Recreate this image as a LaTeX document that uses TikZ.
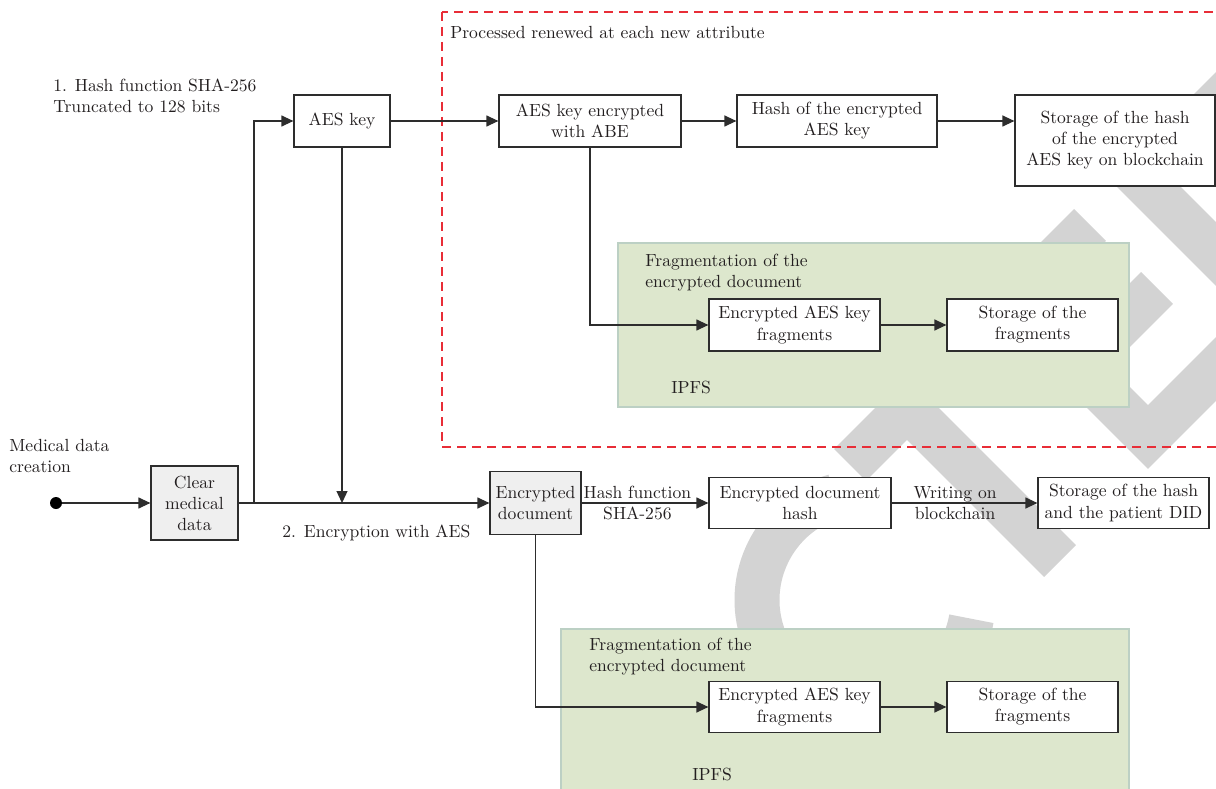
\documentclass[tikz,border=0pt]{standalone}
\usepackage{xcolor}
\usepackage{tikz}
\usetikzlibrary {arrows.meta,positioning}

\definecolor{boxline}{RGB}{45,45,45}
\definecolor{inkgrey}{RGB}{35,31,32}
\definecolor{datagrey}{RGB}{239,239,239}
\definecolor{ipfsgreen}{RGB}{221,231,205}
\definecolor{ipfsedge}{RGB}{188,208,196}
\definecolor{dashred}{RGB}{232,45,55}
\definecolor{wmgrey}{RGB}{211,211,211}

\begin{document}
\begin{tikzpicture}[x=0.2mm, y=-0.2mm, on grid,
   block/.style={draw=boxline, fill=white, line width=0.7pt, align=center, inner sep=1pt, text=inkgrey},
   greyblock/.style={block, fill=datagrey},
   dot/.style={circle, fill=black, minimum size=2.4mm, inner sep=0pt},
   lbl/.style={align=left, inner sep=0pt, anchor=west, text=inkgrey},
   edgelbl/.style={align=center, inner sep=0pt, text=inkgrey},
   ipfsbox/.style={fill=ipfsgreen, draw=ipfsedge, line width=0.6pt},
   renewbox/.style={draw=dashred, line width=0.7pt, dash pattern=on 1.8mm off 1.2mm},
   wmband/.style={draw=wmgrey, line width=9mm},
   elbow/.style={to path={|- (\tikztotarget) \tikztonodes}}]

   \clip (0,0) rectangle (1216,788);

   % grey watermark behind the diagram
   \draw[wmband] (865,600) ++(-106:108) arc[start angle=-106, end angle=-350, radius=108];
   \draw[wmband] (850,465) -- (1090,225);
   \draw[wmband] (907,408) -- (1060,561);
   \draw[wmband] (1157,288) -- (1078,367) -- (1148,437) -- (1260,325);
   \draw[wmband] (1260,60) -- (1141,179) -- (1260,298);

   % regions
   \draw[renewbox] (442,12) rectangle (1240,447);
   \draw[ipfsbox] (618,243) rectangle (1129,407);
   \draw[ipfsbox] (561,629) rectangle (1129,800);

   % Define the blocks
   \node[dot] (start) at (56,503) {};
   \node[greyblock, minimum width=17.4mm, minimum height=14.8mm] (clear) at (194.5,503) {Clear\\medical\\data};
   \coordinate (split) at (254,503);
   \node[block, minimum width=19.2mm, minimum height=10.4mm] (aeskey) at (342,121) {AES key};
   \node[block, minimum width=36.4mm, minimum height=10.4mm] (abe) at (590,121) {AES key encrypted\\with ABE};
   \node[block, minimum width=40mm, minimum height=10.4mm] (hashkey) at (837,121) {Hash of the encrypted\\AES key};
   \node[block, minimum width=40mm, minimum height=18.2mm] (storekey) at (1115,140.5) {Storage of the hash\\of the encrypted\\AES key on blockchain};
   \node[greyblock, minimum width=18.2mm, minimum height=12.6mm] (encdoc) at (535.5,503) {Encrypted\\document};
   \node[block, minimum width=36.4mm, minimum height=10.2mm] (dochash) at (800,503) {Encrypted document\\hash};
   \node[block, minimum width=34.2mm, minimum height=10.2mm] (storedid) at (1123.5,503) {Storage of the hash\\and the patient DID};
   \node[block, minimum width=34.2mm, minimum height=10.4mm] (frag1) at (794.5,325) {Encrypted AES key\\fragments};
   \node[block, minimum width=34.2mm, minimum height=10.4mm] (store1) [right=47.6mm of frag1] {Storage of the\\fragments};
   \node[block, minimum width=34.2mm, minimum height=10.2mm] (frag2) at (794.5,707) {Encrypted AES key\\fragments};
   \node[block, minimum width=34.2mm, minimum height=10.2mm] (store2) [right=47.6mm of frag2] {Storage of the\\fragments};

   % free texts
   \node[lbl] (medlbl) at (9,456) {Medical data\\creation};
   \node[lbl] (shalbl) at (53,96) {1. Hash function SHA-256\\Truncated to 128 bits};
   \node[lbl] (aeslbl) at (282,533) {2. Encryption with AES};
   \node[lbl] (renewlbl) at (450,33) {Processed renewed at each new attribute};
   \node[lbl] (fraglbl1) at (645,273) {Fragmentation of the\\encrypted document};
   \node[lbl] (ipfslbl1) at (671,387) {IPFS};
   \node[lbl] (fraglbl2) at (589,657) {Fragmentation of the\\encrypted document};
   \node[lbl] (ipfslbl2) at (692,774) {IPFS};

   % Define transitions
   \path[-{Triangle[length=2.4mm,width=2.2mm]}, line width=0.7pt, every edge/.style={draw=boxline}]
    (start) edge (clear)
    (clear) edge (encdoc)
    (split) edge[elbow] (aeskey)
    (aeskey) edge (aeskey |- encdoc)
    (aeskey) edge (abe)
    (abe) edge (hashkey)
    (hashkey) edge (storekey.west |- hashkey)
    (abe) edge[elbow] (frag1)
    (frag1) edge (store1)
    (encdoc) edge node[edgelbl, pos=0.44] {Hash function\\SHA-256} (dochash)
    (dochash) edge node[edgelbl, pos=0.435] {Writing on\\blockchain} (storedid)
    (encdoc) edge[elbow] (frag2)
    (frag2) edge (store2);

\end{tikzpicture}
\end{document}
